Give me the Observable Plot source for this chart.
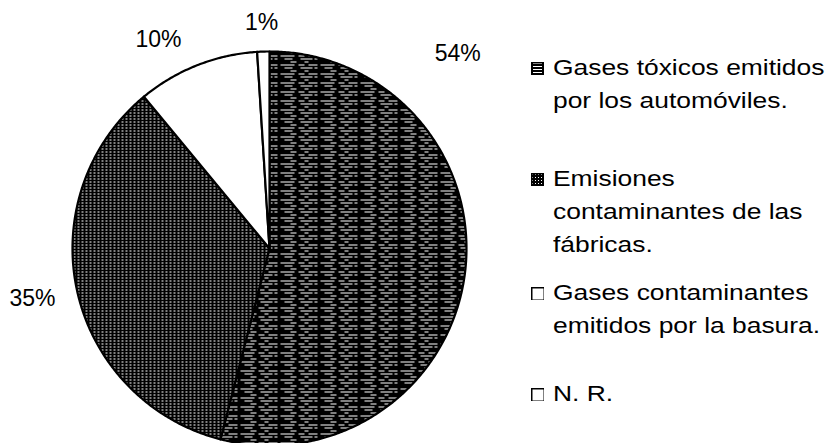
<!DOCTYPE html>
<html><head><meta charset="utf-8">
<script src="https://cdn.jsdelivr.net/npm/d3@7"></script>
<script src="https://cdn.jsdelivr.net/npm/@observablehq/plot@0.6"></script>
<style>
html,body{margin:0;padding:0;background:#fff;}
#wrap{position:relative;width:831px;height:443px;overflow:hidden;}
#chart{position:absolute;left:0;top:0;}
#legend{position:absolute;left:0;top:0;width:831px;height:443px;font-family:"Liberation Sans",Arial,sans-serif;color:#000;}
.item{position:absolute;left:531px;}
.sw{position:absolute;left:0;width:13px;height:13px;}
.txt{position:absolute;left:22px;white-space:nowrap;font-size:22px;line-height:33px;transform:scaleX(1.2);transform-origin:0 0;}
.txt div{height:33px;}
</style>
</head><body>
<div id="wrap"><div id="chart"></div><div id="legend"></div></div>
<script>
// ---- data ----
const categories = ["Gases tóxicos emitidos por los automóviles.", "Emisiones contaminantes de las fábricas.", "Gases contaminantes emitidos por la basura.", "N. R."];
const values = [54, 35, 10, 1];
const valueLabels = ["54%", "35%", "10%", "1%"];
const legendLines = [
  ["Gases tóxicos emitidos", "por los automóviles."],
  ["Emisiones", "contaminantes de las", "fábricas."],
  ["Gases contaminantes", "emitidos por la basura."],
  ["N. R."]
];

// ---- layout / style ----
const fills = ["url(#patH)", "url(#patX)", "white", "white"];
const labelPlace = [ // [angle deg clockwise from top, radius factor]
  [44, 1.375], [258, 1.23], [332, 1.2], [358, 1.145]
];
const legendBaselines = [74, 185, 299, 400];

const total = d3.sum(values);
let acc = 0;
const slices = values.map((v, i) => {
  const a0 = acc / total * 2 * Math.PI;
  acc += v;
  const a1 = acc / total * 2 * Math.PI;
  const n = Math.max(2, Math.ceil((a1 - a0) / (Math.PI / 360)));
  const pts = [{x: 0, y: 0}];
  for (let k = 0; k <= n; k++) {
    const a = a0 + (a1 - a0) * k / n;
    pts.push({x: Math.sin(a), y: Math.cos(a)});
  }
  pts.push({x: 0, y: 0});
  return {cat: categories[i], pts, fill: fills[i]};
});

const labelData = valueLabels.map((t, i) => {
  const a = labelPlace[i][0] * Math.PI / 180, r = labelPlace[i][1];
  return {t, x: Math.sin(a) * r, y: Math.cos(a) * r};
});

const plot = Plot.plot({
  width: 831, height: 443,
  margin: 0,
  x: {domain: [-1, 1], range: [72, 466], axis: null},
  y: {domain: [-1, 1], range: [445, 51], axis: null},
  style: {background: "white"},
  marks: [
    ...slices.map(s => Plot.line(s.pts, {x: "x", y: "y", fill: s.fill, stroke: "black", strokeWidth: 2.2, strokeLinejoin: "round", curve: "linear"})),
    Plot.text(labelData, {x: "x", y: "y", text: "t", fontSize: 23, fontFamily: "Liberation Sans, Arial, sans-serif", fill: "black"})
  ]
});

d3.select(plot).insert("defs", ":first-child").html(`
<pattern id="patH" patternUnits="userSpaceOnUse" width="40" height="9">
  <rect width="40" height="9" fill="black"/>
  <rect x="0" y="1" width="14" height="1" fill="white"/>
  <rect x="18" y="1" width="6" height="1" fill="white"/>
  <rect x="28" y="1" width="9" height="1" fill="white"/>
  <rect x="4" y="4" width="8" height="1" fill="white"/>
  <rect x="20" y="4" width="12" height="1" fill="white"/>
  <rect x="34" y="4" width="3" height="1" fill="white"/>
  <rect x="10" y="7" width="6" height="1" fill="white"/>
  <rect x="24" y="7" width="4" height="1" fill="white"/>
</pattern>
<pattern id="patX" patternUnits="userSpaceOnUse" width="4" height="3">
  <rect width="4" height="3" fill="black"/>
  <rect x="1" y="1" width="2" height="1" fill="white"/>
</pattern>
<pattern id="swH" patternUnits="userSpaceOnUse" width="13" height="3">
  <rect width="13" height="3" fill="black"/>
  <rect x="2" y="1" width="9" height="1" fill="white"/>
</pattern>
<pattern id="swX" patternUnits="userSpaceOnUse" width="3" height="3">
  <rect width="3" height="3" fill="black"/>
  <rect x="1" y="1" width="1" height="1" fill="white"/>
</pattern>`);
document.getElementById("chart").appendChild(plot);

const swFills = ["url(#swH)", "url(#swX)", "white", "white"];
const leg = d3.select("#legend");
legendLines.forEach((lines, i) => {
  const top = legendBaselines[i] - 23.5;
  const it = leg.append("div").attr("class", "item").style("top", top + "px");
  it.append("svg").attr("class", "sw").attr("width", 14).attr("height", 14).style("top", "11px")
    .append("rect").attr("x", 0.75).attr("y", 0.75).attr("width", 12.5).attr("height", 12.5)
    .attr("fill", swFills[i]).attr("stroke", "black").attr("stroke-width", 1.5);
  const tx = it.append("div").attr("class", "txt").style("top", "0px");
  lines.forEach(l => tx.append("div").text(l));
});
</script>
</body></html>
